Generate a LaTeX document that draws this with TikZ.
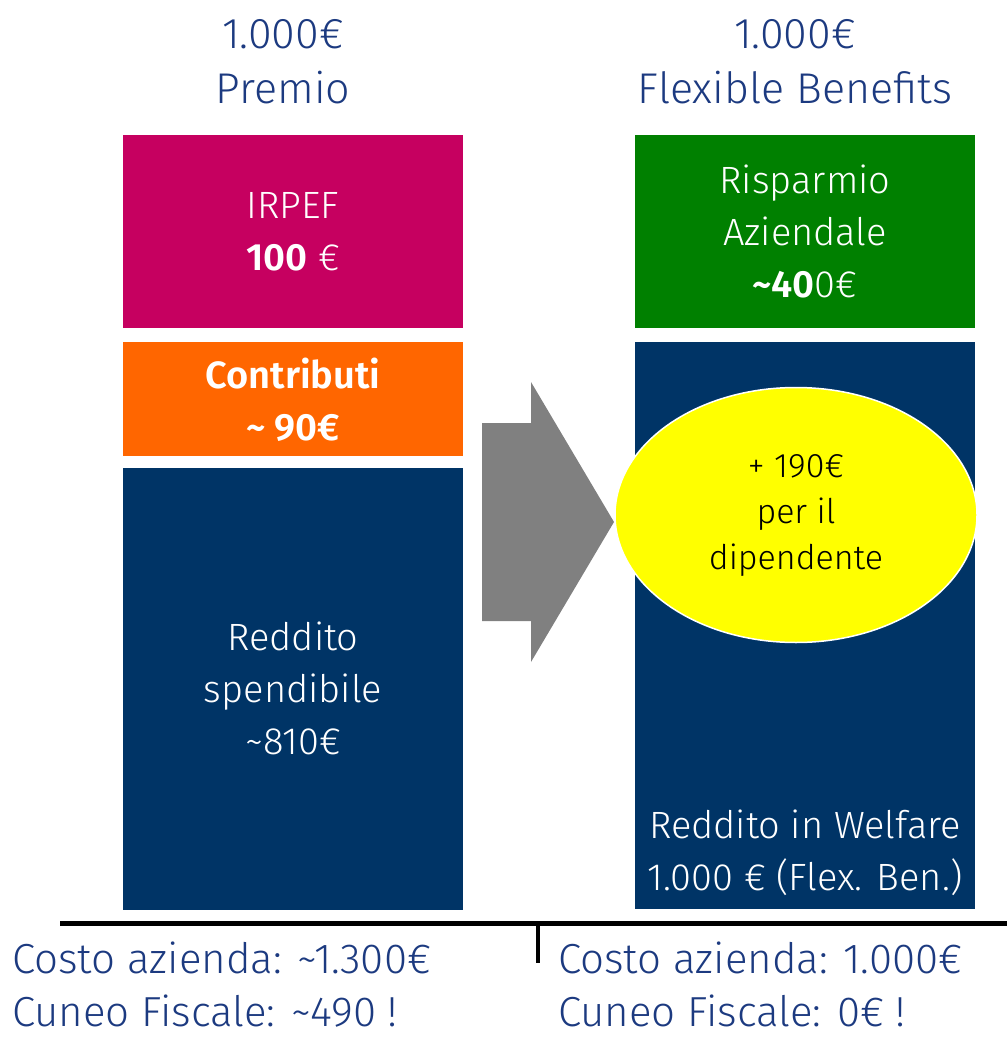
\documentclass[tikz,border=0pt]{standalone}
\usepackage{fontspec}
\setmainfont{Fira Sans Light}[BoldFont={Fira Sans SemiBold}]
\usetikzlibrary{shapes.geometric,positioning}
\definecolor{irpefred}{RGB}{198,0,96}
\definecolor{contriborange}{RGB}{255,102,0}
\definecolor{navy}{RGB}{0,52,102}
\definecolor{savegreen}{RGB}{0,128,0}
\definecolor{headblue}{RGB}{28,58,128}
\definecolor{arrowgray}{RGB}{128,128,128}
\definecolor{bubbleyellow}{RGB}{255,255,0}
\tikzset{%
  block/.style   = {shape=rectangle, minimum width=340pt, inner sep=0pt,%
                    text=white, align=center,%
                    font=\fontsize{38}{52}\selectfont},%
  heading/.style = {text=headblue, align=center, inner sep=0pt,%
                    font=\fontsize{43}{55}\selectfont},%
  cost/.style    = {heading, align=left, anchor=south west, text depth=0pt,%
                    font=\fontsize{42}{53}\selectfont},%
  bubble/.style  = {shape=ellipse, fill=bubbleyellow, draw=white, line width=1.5pt,%
                    minimum width=362pt, minimum height=255pt, inner sep=0pt,%
                    align=center, font=\fontsize{34}{46}\selectfont}%
}
\begin{document}
\begin{tikzpicture}[x=1pt,y=-1pt]%
	\useasboundingbox (0,0) rectangle (1007,1040);
	% headings
	\node [heading] (premio) at (283,62) {1.000€\\Premio};%
	\node [heading] (flex) at (795,62) {1.000€\\Flexible Benefits};%
	% left column
	\node [block, fill=irpefred, minimum height=193pt] (irpef) at (293,231.5)%
		{IRPEF\\\textbf{100} €};%
	\node [block, fill=contriborange, minimum height=114pt, below=14pt of irpef] (contrib)%
		{\textbf{Contributi}\\\textbf{\textasciitilde{} 90€}};%
	\node [block, fill=navy, minimum height=442pt, below=11pt of contrib] (reddito)%
		{Reddito\\spendibile\\\textasciitilde810€};%
	% right column
	\node [block, fill=savegreen, minimum height=193pt] (risparmio) at (805,231.5)%
		{Risparmio\\Aziendale\\\textbf{\textasciitilde40}0€};%
	\node [block, fill=navy, minimum height=567pt, below=14pt of risparmio] (welfare) {};%
	\node [block, minimum height=0pt, anchor=south] (welfaretxt) at (805,896)%
		{Reddito in Welfare\\1.000 € (Flex. Ben.)};%
	% arrow and bubble
	\fill [arrowgray] (482,423) -- (531,423) -- (531,382) -- (614,522)%
		-- (531,662) -- (531,621) -- (482,621) -- cycle;%
	\node [bubble] (gain) at (796,515) {+ 190€\\per il\\dipendente};%
	% baseline
	\draw [line width=5pt] (60,923) -- (1007,923);%
	\draw [line width=4pt] (538,923) -- (538,963);%
	\node [cost] (costleft) at (12,1027) {Costo azienda: \textasciitilde1.300€\\Cuneo Fiscale: \textasciitilde490 !};%
	\node [cost] (costright) at (558,1027) {Costo azienda: 1.000€\\Cuneo Fiscale: 0€ !};%
\end{tikzpicture}
\end{document}
